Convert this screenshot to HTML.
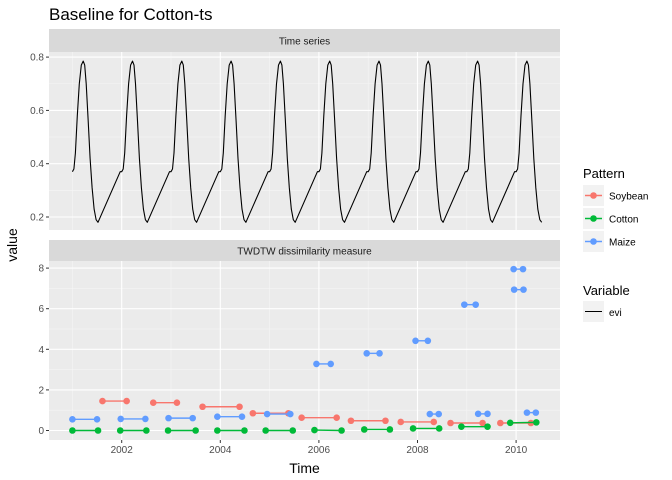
<!DOCTYPE html>
<html><head><meta charset="utf-8">
<style>
body{margin:0;background:#fff;}
svg{display:block;font-family:"Liberation Sans",sans-serif;}
</style></head>
<body>
<svg id="c" width="672" height="480" xmlns="http://www.w3.org/2000/svg"></svg>
<script>
// ---- data ----
const years = [2001,2002,2003,2004,2005,2006,2007,2008,2009,2010];
const cycleOffsets = [0,0.03,0.06,0.1,0.14,0.18,0.22,0.25,0.28,0.32,0.36,0.4,0.44,0.48,0.52,0.97];
const cycleValues  = [0.37,0.38,0.44,0.58,0.7,0.77,0.785,0.77,0.7,0.56,0.42,0.31,0.23,0.19,0.18,0.37];
const soyX1=[2001.61,2002.64,2003.64,2004.66,2005.65,2006.65,2007.66,2008.67,2009.68];
const soyX2=[2002.10,2003.12,2004.39,2005.38,2006.36,2007.35,2008.33,2009.32,2010.30];
const soyY =[1.45,1.37,1.17,0.85,0.63,0.48,0.42,0.37,0.37];
const cotX1=[2001.0,2001.97,2002.94,2003.94,2004.92,2005.91,2006.92,2007.91,2008.89,2009.88];
const cotX2=[2001.52,2002.5,2003.5,2004.49,2005.47,2006.46,2007.44,2008.44,2009.42,2010.41];
const cotY1=[0,0,0,0,0,0.02,0.05,0.1,0.19,0.38];
const cotY2=[0,0,0,0,0,0,0.05,0.1,0.19,0.4];
const maiX1=[2001.0,2001.98,2002.95,2003.94,2004.95,2005.95,2006.97,2007.96,2008.25,2008.95,2009.23,2009.95,2009.96,2010.22];
const maiX2=[2001.5,2002.48,2003.44,2004.44,2005.42,2006.24,2007.23,2008.21,2008.43,2009.18,2009.42,2010.14,2010.15,2010.40];
const maiY =[0.55,0.57,0.61,0.68,0.81,3.28,3.8,4.42,0.81,6.2,0.82,7.95,6.94,0.88];
const xTicks=[2002,2004,2006,2008,2010];
const topTicks=[0.2,0.4,0.6,0.8];
const botTicks=[0,2,4,6,8];
// ---- scales ----
const X=v=>72.4+(v-2001)*49.3;
const YT=v=>217-(v-0.2)*266.5;
const YB=v=>430.5-v*20.3;
const L=49,R=560;
const svg=document.getElementById('c');
const NS='http://www.w3.org/2000/svg';
function mk(tag,attrs,parent){const e=document.createElementNS(NS,tag);for(const k in attrs)e.setAttribute(k,attrs[k]);(parent||svg).appendChild(e);return e;}
function txt(s,attrs,parent){const e=mk('text',attrs,parent);e.textContent=s;return e;}

const t=txt('Baseline for Cotton-ts',{x:49,y:20,'font-size':17,fill:'#000'});


function panel(top,bot,stripTop,label,ticks,Y,fmt,nm){
  const g=mk('g',{});
  
  mk('rect',{x:L,y:stripTop,width:R-L,height:top-stripTop,fill:'#d9d9d9'},g);
  txt(label,{x:(L+R)/2,y:stripTop+(top-stripTop)/2+4,'font-size':10,'text-anchor':'middle',fill:'#1a1a1a'},g);
  mk('rect',{x:L,y:top,width:R-L,height:bot-top,fill:'#ebebeb'},g);
  for(let i=0;i<ticks.length-1;i++){const m=(Y(ticks[i])+Y(ticks[i+1]))/2;mk('line',{x1:L,x2:R,y1:m,y2:m,stroke:'#f5f5f5','stroke-width':0.6},g);}
  for(let i=0;i<xTicks.length-1;i++){const m=(X(xTicks[i])+X(xTicks[i+1]))/2;mk('line',{x1:m,x2:m,y1:top,y2:bot,stroke:'#f5f5f5','stroke-width':0.6},g);}
  {const m=X(xTicks[0])-(X(xTicks[1])-X(xTicks[0]))/2;mk('line',{x1:m,x2:m,y1:top,y2:bot,stroke:'#f5f5f5','stroke-width':0.6},g);}
  ticks.forEach(v=>{const y=Y(v);mk('line',{x1:L,x2:R,y1:y,y2:y,stroke:'#fff','stroke-width':1.1},g);
    mk('line',{x1:L-3,x2:L,y1:y,y2:y,stroke:'#333','stroke-width':1},g);
    const tl=txt(fmt(v),{x:L-5,y:y+3.5,'font-size':10,'text-anchor':'end',fill:'#4d4d4d'},g);
    });
  xTicks.forEach(v=>{const x=X(v);mk('line',{x1:x,x2:x,y1:top,y2:bot,stroke:'#fff','stroke-width':1.1},g);});
  return g;
}
panel(52,230,29,'Time series',topTicks,YT,v=>v.toFixed(1),'time-series-panel');
panel(261,440,240,'TWDTW dissimilarity measure',botTicks,YB,v=>String(v),'twdtw-panel');

xTicks.forEach(v=>{const x=X(v);mk('line',{x1:x,x2:x,y1:440,y2:443,stroke:'#333'});
  const tl=txt(String(v),{x:x,y:453,'font-size':10,'text-anchor':'middle',fill:'#4d4d4d'});
  });
const xt=txt('Time',{x:(L+R)/2,y:473,'font-size':14,'text-anchor':'middle'});

const yt=txt('value',{x:0,y:0,'font-size':14,'text-anchor':'middle',transform:'translate(17,245) rotate(-90)'});


let pts=[];
years.forEach((yr,i)=>{cycleOffsets.forEach((o,j)=>{ if(i===years.length-1 && j>14) return; pts.push(X(yr+o).toFixed(1)+','+YT(cycleValues[j]).toFixed(1));});});
const ts=mk('polyline',{points:pts.join(' '),fill:'none',stroke:'#000','stroke-width':1.1,'stroke-linejoin':'round'});


function segs(x1,x2,y1,y2,col,nm){
  const g=mk('g',{});
  
  x1.forEach((v,i)=>{const a=X(v),b=X(x2[i]),ya=YB(y1[i]),yb=YB(y2[i]);
    mk('line',{x1:a,x2:b,y1:ya,y2:yb,stroke:col,'stroke-width':1.4},g);
    const c1=mk('circle',{cx:a,cy:ya,r:3.3,fill:col},g);
    const c2=mk('circle',{cx:b,cy:yb,r:3.3,fill:col},g);});
}
segs(soyX1,soyX2,soyY,soyY,'#F8766D','soybean-series');
segs(cotX1,cotX2,cotY1,cotY2,'#00BA38','cotton-series');
segs(maiX1,maiX2,maiY,maiY,'#619CFF','maize-series');

const lg=mk('g',{});
txt('Pattern',{x:583,y:178,'font-size':13},lg);
[['Soybean','#F8766D'],['Cotton','#00BA38'],['Maize','#619CFF']].forEach((e,i)=>{
  const y=185+i*23;const g=mk('g',{},lg);
  
  mk('rect',{x:583,y:y,width:21,height:21,fill:'#f2f2f2'},g);
  mk('line',{x1:585,x2:602,y1:y+10.5,y2:y+10.5,stroke:e[1],'stroke-width':1.4},g);
  mk('circle',{cx:593.5,cy:y+10.5,r:3.3,fill:e[1]},g);
  txt(e[0],{x:609,y:y+14.5,'font-size':10},g);});
txt('Variable',{x:583,y:295,'font-size':13},lg);
const ge=mk('g',{},lg);
mk('rect',{x:583,y:301,width:21,height:21,fill:'#f2f2f2'},ge);
mk('line',{x1:585,x2:602,y1:311.5,y2:311.5,stroke:'#000','stroke-width':1.1},ge);
txt('evi',{x:609,y:316,'font-size':10},ge);
</script>
</body></html>
